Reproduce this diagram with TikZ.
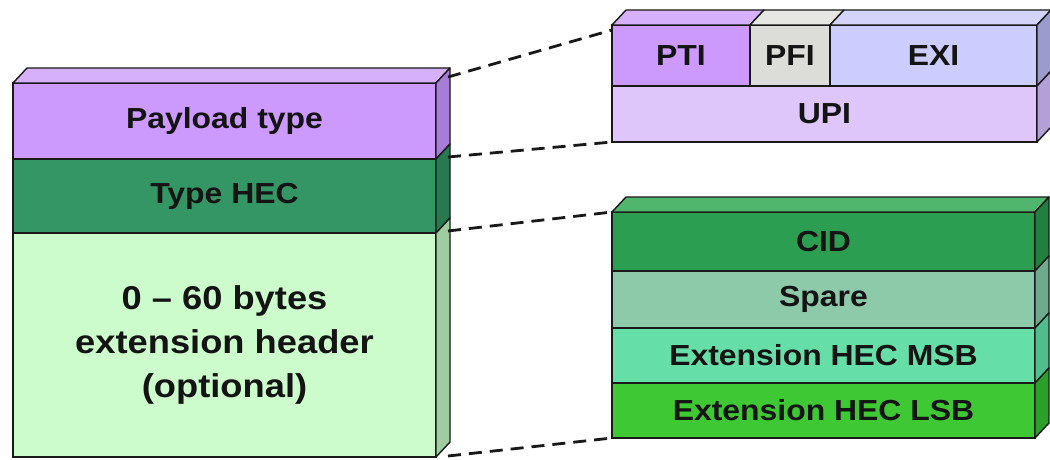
\documentclass[tikz,border=0pt]{standalone}
\usepackage{fontspec}
\setmainfont[FakeStretch=1.1]{Liberation Sans}
\definecolor{payF}{RGB}{204,153,252}
\definecolor{payT}{RGB}{214,176,250}
\definecolor{payS}{RGB}{168,125,215}
\definecolor{hecF}{RGB}{52,150,100}
\definecolor{hecS}{RGB}{40,120,80}
\definecolor{extF}{RGB}{204,252,204}
\definecolor{extS}{RGB}{160,205,160}
\definecolor{ptiF}{RGB}{204,153,252}
\definecolor{ptiT}{RGB}{214,176,250}
\definecolor{pfiF}{RGB}{220,220,216}
\definecolor{pfiT}{RGB}{230,230,226}
\definecolor{exiF}{RGB}{204,204,255}
\definecolor{exiT}{RGB}{212,212,250}
\definecolor{exiS}{RGB}{155,155,205}
\definecolor{upiF}{RGB}{222,198,250}
\definecolor{upiS}{RGB}{180,160,215}
\definecolor{cidF}{RGB}{44,158,82}
\definecolor{cidT}{RGB}{80,182,110}
\definecolor{cidS}{RGB}{32,128,62}
\definecolor{spaF}{RGB}{140,202,170}
\definecolor{spaS}{RGB}{110,170,140}
\definecolor{msbF}{RGB}{102,222,168}
\definecolor{msbS}{RGB}{80,190,140}
\definecolor{lsbF}{RGB}{62,200,52}
\definecolor{lsbS}{RGB}{42,160,40}
\definecolor{edge}{RGB}{25,25,25}
\def\dpx{14}
\def\dpy{-15}
\newcommand\mytop[2]{\filldraw[face,fill=#2] (#1.north west) -- ([shift={(\dpx,\dpy)}]#1.north west) -- ([shift={(\dpx,\dpy)}]#1.north east) -- (#1.north east) -- cycle;}
\newcommand\myside[2]{\filldraw[face,fill=#2] (#1.north east) -- ([shift={(\dpx,\dpy)}]#1.north east) -- ([shift={(\dpx,\dpy)}]#1.south east) -- (#1.south east) -- cycle;}
\tikzset{
  face/.style={draw=edge,line width=1.4pt,line join=round},
  cell/.style={draw=edge,line width=2.2pt,rectangle,inner sep=0pt,outer sep=0pt,anchor=north west,
    font=\bfseries\fontsize{29}{31}\selectfont,text=black!92},
  bigtext/.style={font=\bfseries\fontsize{33}{44}\selectfont,align=center,text=black!92},
  link/.style={draw=edge,line width=2.8pt,dash pattern=on 13pt off 8pt}
}
\begin{document}
\begin{tikzpicture}[x=1pt,y=-1pt]
\useasboundingbox (0,0) rectangle (1050,460);
% left stack
\node[cell,fill=payF,minimum width=423pt,minimum height=76pt] (pay) at (13,83) {Payload type};
\node[cell,fill=hecF,minimum width=423pt,minimum height=74pt] (thec) at (13,159) {Type HEC};
\node[cell,fill=extF,minimum width=423pt,minimum height=224pt] (ext) at (13,233) {};
\node[bigtext] (exttext) at (ext.center) {0 \textendash\ 60 bytes\\extension header\\(optional)};
\mytop{pay}{payT}
\myside{pay}{payS}
\myside{thec}{hecS}
\myside{ext}{extS}
% top right
\node[cell,fill=ptiF,minimum width=138pt,minimum height=61pt] (pti) at (612,25) {PTI};
\node[cell,fill=pfiF,minimum width=80pt,minimum height=61pt] (pfi) at (750,25) {PFI};
\node[cell,fill=exiF,minimum width=207pt,minimum height=61pt] (exi) at (830,25) {EXI};
\node[cell,fill=upiF,minimum width=425pt,minimum height=56pt] (upi) at (612,86) {UPI};
\mytop{pti}{ptiT}
\mytop{pfi}{pfiT}
\mytop{exi}{exiT}
\myside{exi}{exiS}
\myside{upi}{upiS}
% bottom right
\node[cell,fill=cidF,minimum width=423pt,minimum height=59pt] (cid) at (612,212) {CID};
\node[cell,fill=spaF,minimum width=423pt,minimum height=57pt] (spare) at (612,271) {Spare};
\node[cell,fill=msbF,minimum width=423pt,minimum height=55pt] (msb) at (612,328) {Extension HEC MSB};
\node[cell,fill=lsbF,minimum width=423pt,minimum height=55pt] (lsb) at (612,383) {Extension HEC LSB};
\mytop{cid}{cidT}
\myside{cid}{cidS}
\myside{spare}{spaS}
\myside{msb}{msbS}
\myside{lsb}{lsbS}
% connectors
\coordinate (l1) at ([shift={(12,-6)}]pay.north east);
\coordinate (l2) at ([shift={(12,-2)}]pay.south east);
\coordinate (l3) at ([shift={(12,-2)}]thec.south east);
\coordinate (l4) at ([shift={(12,-1)}]ext.south east);
\draw[link] (l1) -- ([yshift=-5pt]pti.north west);
\draw[link] (l2) -- (upi.south west);
\draw[link] (l3) -- (cid.north west);
\draw[link] (l4) -- (lsb.south west);
\end{tikzpicture}
\end{document}
